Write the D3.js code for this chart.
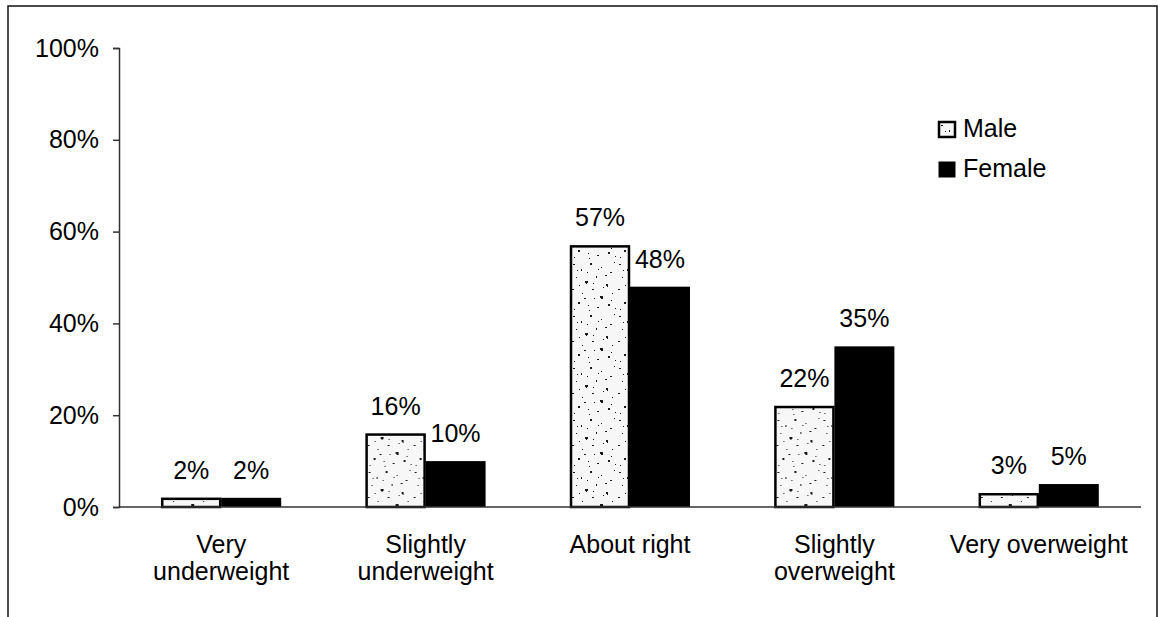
<!DOCTYPE html>
<html>
<head>
<meta charset="utf-8">
<script src="https://cdn.jsdelivr.net/npm/d3@7"></script>
<style>
  html, body { margin: 0; padding: 0; background: #fff; }
  svg { display: block; }
  text { font-family: "Liberation Sans", Arial, sans-serif; fill: #000; }
</style>
</head>
<body>
<svg id="chart" width="1158" height="617"></svg>
<script>
// ---- data ----
const categories = [["Very", "underweight"], ["Slightly", "underweight"], ["About right"], ["Slightly", "overweight"], ["Very overweight"]];
const seriesNames = ["Male", "Female"];
const maleValues = [0.02, 0.16, 0.57, 0.22, 0.03];
const femaleValues = [0.02, 0.10, 0.48, 0.35, 0.05];
const yTicks = [0, 0.2, 0.4, 0.6, 0.8, 1.0];

const svg = d3.select("#chart");

// speckle texture (fixed, decorative)
const defs = svg.append("defs");
const pat = defs.append("pattern").attr("id", "speckle").attr("patternUnits", "userSpaceOnUse")
  .attr("width", 46).attr("height", 52);
pat.append("rect").attr("width", 46).attr("height", 52).attr("fill", "#f7f7f7");
const specks = [[3,4,2,1],[11,9,1,2],[20,3,2,2],[31,7,1,1],[40,12,2,1],[6,17,1,1],[15,21,3,2],[16,23,1,1],[26,16,1,2],[36,24,2,2],[37,26,1,1],[2,29,2,1],
  [12,33,1,1],[22,29,2,1],[30,36,3,2],[31,38,2,1],[42,33,1,1],[8,42,2,2],[18,45,1,1],[27,47,2,1],[38,44,2,2],[44,2,1,1],[24,38,1,1],
  [33,27,1,1],[9,25,1,1],[17,12,1,1],[45,48,1,1],[4,49,1,1],[35,15,2,1],[28,9,1,1],[14,38,2,1],[7,10,1,1],[23,23,1,1],[41,40,1,1],[19,50,1,1]];
pat.selectAll("rect.s").data(specks).join("rect").attr("class", "s")
  .attr("x", d => d[0]).attr("y", d => d[1]).attr("width", d => d[2]).attr("height", d => d[3]).attr("fill", "#1a1a1a");

// outer frame (bottom edge off-canvas)
svg.append("rect").attr("x", 8).attr("y", 6).attr("width", 1149).attr("height", 640)
  .attr("fill", "none").attr("stroke", "#111").attr("stroke-width", 1.5);

const x0 = d3.scaleBand().domain(d3.range(categories.length)).range([119, 1141])
  .paddingInner(0.413).paddingOuter(0.2065);
const x1 = d3.scaleBand().domain(seriesNames).range([0, x0.bandwidth()]);
const y = d3.scaleLinear().domain([0, 1]).range([507, 48]);

// y axis
const yAxis = svg.append("g").attr("transform", "translate(119,0)")
  .call(d3.axisLeft(y).tickValues(yTicks).tickFormat(d3.format(".0%")).tickSize(6).tickPadding(14));
yAxis.select(".domain").attr("stroke", "#333").attr("stroke-width", 1.5);
yAxis.selectAll(".tick line").attr("stroke", "#333").attr("stroke-width", 1.5);
yAxis.selectAll(".tick text").attr("font-size", 25).attr("font-family", "Liberation Sans, Arial, sans-serif").attr("fill", "#000");

// bars
const rows = categories.map((c, i) => ({ i, vals: [maleValues[i], femaleValues[i]] }));
const groups = svg.append("g").selectAll("g").data(rows).join("g")
  .attr("transform", d => `translate(${x0(d.i)},0)`);

groups.selectAll("rect").data(d => d.vals.map((v, k) => ({ v, k })))
  .join("rect")
  .attr("x", d => x1(seriesNames[d.k]) + (d.k === 0 ? 1 : 0))
  .attr("y", d => y(d.v) + (d.k === 0 ? 1 : 0))
  .attr("width", d => x1.bandwidth() - (d.k === 0 ? 2 : 0))
  .attr("height", d => y(0) - y(d.v) - (d.k === 0 ? 1 : 0))
  .attr("fill", d => d.k === 0 ? "url(#speckle)" : "#000")
  .attr("stroke", d => d.k === 0 ? "#000" : "none")
  .attr("stroke-width", 2.5);

groups.selectAll("text.val").data(d => d.vals.map((v, k) => ({ v, k })))
  .join("text").attr("class", "val")
  .attr("x", d => x1(seriesNames[d.k]) + x1.bandwidth() / 2)
  .attr("y", d => y(d.v) - 19)
  .attr("text-anchor", "middle").attr("font-size", 25)
  .text(d => d3.format(".0%")(d.v));

// x axis
svg.append("line").attr("x1", 119).attr("x2", 1141).attr("y1", y(0)).attr("y2", y(0))
  .attr("stroke", "#333").attr("stroke-width", 1.5);

// category labels
const catG = svg.append("g").selectAll("text").data(categories).join("text")
  .attr("text-anchor", "middle").attr("font-size", 25)
  .attr("transform", (d, i) => `translate(${x0(i) + x0.bandwidth() / 2},553)`);
catG.selectAll("tspan").data(d => d).join("tspan")
  .attr("x", 0).attr("dy", (d, j) => j === 0 ? 0 : 27).text(d => d);

// legend
const leg = svg.append("g").attr("transform", "translate(938,121)");
const li = leg.selectAll("g").data(seriesNames).join("g").attr("transform", (d, i) => `translate(0,${i * 40})`);
li.append("rect").attr("x", 1).attr("y", 1).attr("width", 16).attr("height", 15)
  .attr("fill", (d, i) => i === 0 ? "url(#speckle)" : "#000")
  .attr("stroke", "#000").attr("stroke-width", (d, i) => i === 0 ? 2.5 : 1);
li.append("text").attr("x", 25).attr("y", 16).attr("font-size", 25).text(d => d);
</script>
</body>
</html>
